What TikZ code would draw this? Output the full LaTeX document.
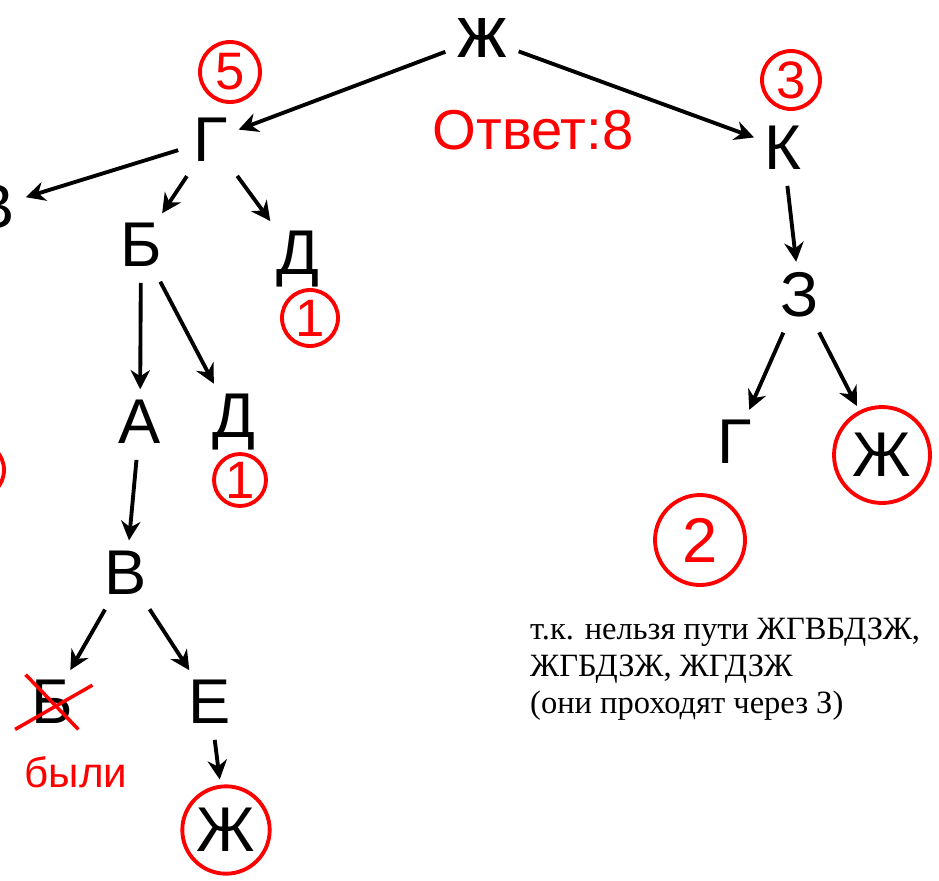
\documentclass[tikz,border=0pt]{standalone}
\usepackage{fontspec}
\setmainfont{Liberation Serif}
\newfontfamily\lettfont{Liberation Sans}
\usetikzlibrary{arrows.meta}

\tikzset{
  lt/.style={font=\lettfont\fontsize{36}{36}\selectfont, inner sep=3pt},
  cnt/.style={circle, draw=red, line width=2.2pt, text=red, inner sep=0pt,
    font=\lettfont\fontsize{30}{30}\selectfont},
  edge/.style={-{Stealth[length=11pt,width=11pt]}, line width=2.2pt, shorten <=6pt, shorten >=3pt},
  redtxt/.style={text=red, font=\lettfont\fontsize{32}{32}\selectfont}
}

\begin{document}
\begin{tikzpicture}[x=0.02cm, y=-0.02cm]
  \useasboundingbox (0,0) rectangle (939,880);
  \clip (0,0) rectangle (939,880);

  % letters of the tree
  \node[lt, font=\lettfont\fontsize{42}{42}\selectfont, inner sep=1pt] (zh) at (482, 38) {ж};
  \node[lt] (g1) at (211, 140) {Г};
  \node[lt] (k) at (783, 148) {К};
  \node[lt] (v1) at (-6, 207) {В};
  \node[lt] (b1) at (141, 245) {Б};
  \node[lt] (d1) at (298, 259) {Д};
  \node[lt] (z) at (800, 295) {З};
  \node[lt] (a) at (140, 422) {А};
  \node[lt] (d2) at (234, 422) {Д};
  \node[lt] (g2) at (735, 442) {Г};
  \node[lt] (v2) at (126, 573) {В};
  \node[lt] (b2) at (52, 702) {Б};
  \node[lt] (e) at (210, 702) {Е};
  \node[lt, circle, draw=red, line width=2.2pt, minimum size=1.92cm] (zh1) at (882, 455) {Ж};
  \node[lt, circle, draw=red, line width=2.2pt, minimum size=1.72cm] (zh2) at (226, 830) {Ж};

  % counts
  \node[cnt, minimum size=1.2cm] (c5) at (230, 72) {5};
  \node[cnt, minimum size=1.16cm] (c3) at (791, 80) {3};
  \node[cnt, minimum size=1.12cm] (c1a) at (310, 318) {1};
  \node[cnt, minimum size=1.04cm] (c1b) at (240, 480) {1};
  \node[cnt, minimum size=1.8cm, font=\lettfont\fontsize{36}{36}\selectfont] (c2) at (700, 540) {2};
  \node[cnt, minimum size=1.12cm] (cx) at (-24, 470) {};

  \node[redtxt] (ans) at (533, 130) {Ответ:8};
  \node[text=red, font=\lettfont\fontsize{24}{24}\selectfont] (was) at (76, 772) {были};

  % crossed out
  \draw[red, line width=2pt] (b2.north west) -- (b2.south east);
  \draw[red, line width=2pt] ([xshift=-6pt]b2.south west) -- ([xshift=8pt, yshift=-6pt]b2.north east);

  \draw[edge] (zh) -- (g1);
  \draw[edge] (zh) -- (k);
  \draw[edge] (g1) -- (v1);
  \draw[edge] (g1) -- (b1);
  \draw[edge] (g1) -- (d1);
  \draw[edge] (k) -- (z);
  \draw[edge] (b1) -- (a);
  \draw[edge] (b1) -- (d2);
  \draw[edge] (z) -- (g2);
  \draw[edge] (z) -- (zh1);
  \draw[edge] (a) -- (v2);
  \draw[edge] (v2) -- (b2);
  \draw[edge] (v2) -- (e);
  \draw[edge] (e) -- (zh2);

  \node[anchor=north west, align=left, font=\fontsize{18.5}{21}\selectfont] (note) at (524, 612)
    {т.к. нельзя пути ЖГВБДЗЖ,\\ЖГБДЗЖ, ЖГДЗЖ\\(они проходят через З)};
\end{tikzpicture}
\end{document}
